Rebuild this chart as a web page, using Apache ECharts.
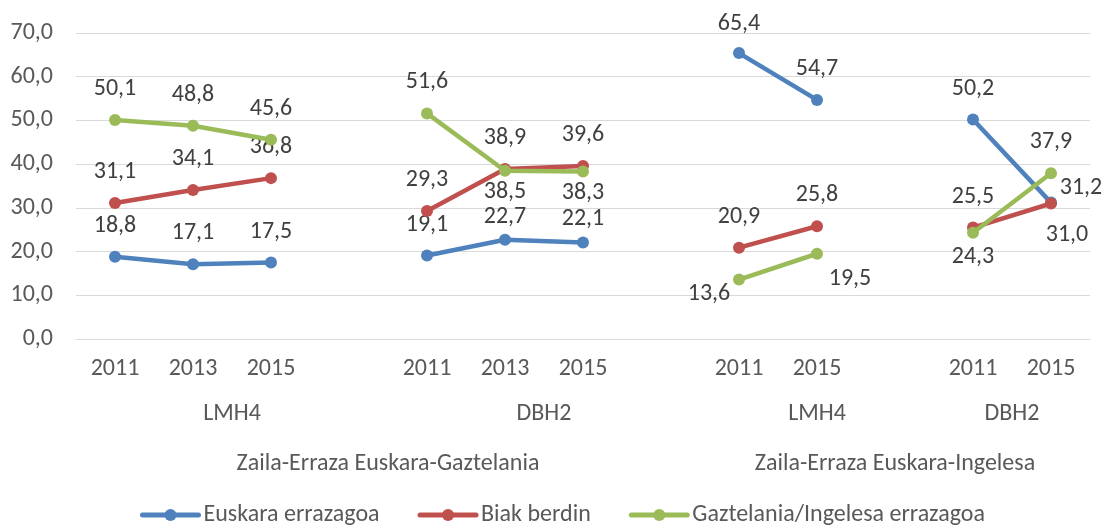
<!DOCTYPE html>
<html>
<head>
<meta charset="utf-8">
<script src="https://cdn.jsdelivr.net/npm/echarts@6/dist/echarts.min.js"></script>
<style>
  html, body { margin: 0; padding: 0; background: #fff; }
  #main { width: 1110px; height: 526px; }
</style>
</head>
<body>
<div id="main"></div>
<script>
// categories (blank slots separate the groups, like the Excel axis)
const years = ['2011', '2013', '2015', '', '2011', '2013', '2015', '', '2011', '2015', '', '2011', '2015'];
const levelTwo = [
	{ name: 'LMH4', from: 0, to: 3 },
	{ name: 'DBH2', from: 4, to: 7 },
	{ name: 'LMH4', from: 8, to: 10 },
	{ name: 'DBH2', from: 11, to: 12 }
];
const levelThree = [
	{ name: 'Zaila-Erraza Euskara-Gaztelania', from: 0, to: 7 },
	{ name: 'Zaila-Erraza Euskara-Ingelesa', from: 8, to: 12 }
];

const seriesNames = ['Euskara errazagoa', 'Biak berdin', 'Gaztelania/Ingelesa errazagoa'];
const euskara = [18.8, 17.1, 17.5, null, 19.1, 22.7, 22.1, null, 65.4, 54.7, null, 50.2, 31.2];
const biak = [31.1, 34.1, 36.8, null, 29.3, 38.9, 39.6, null, 20.9, 25.8, null, 25.5, 31.0];
const gaztelania = [50.1, 48.8, 45.6, null, 51.6, 38.5, 38.3, null, 13.6, 19.5, null, 24.3, 37.9];

const yTicks = { min: 0, max: 70, interval: 10 };

// label placement (offset from the marker centre), default is above
const defaultOffset = [0, -31];
const labelOffsets = [
	{ 5: [0, -23], 6: [0, -23], 8: [0, -29], 12: [30, -15] },
	{ 12: [16, 32] },
	{ 5: [0, 21], 6: [0, 21], 8: [-30, 14], 9: [33, 25], 11: [0, 24] }
];

const colors = ['#4F81BD', '#C0504D', '#9BBB59'];
const fontFamily = 'Carlito, Calibri, "Noto Sans", sans-serif';
const fontSize = 24;
const fmt = v => v.toFixed(1).replace('.', ',');

const chart = echarts.init(document.getElementById('main'), null, { renderer: 'canvas' });

function buildSeries(values, index) {
	return {
		name: seriesNames[index],
		type: 'line',
		symbol: 'circle',
		symbolSize: 12,
		z: 2 + index,
		lineStyle: { width: 4.5, color: colors[index], cap: 'round' },
		itemStyle: { color: colors[index] },
		emphasis: { disabled: true },
		label: {
			show: true,
			position: 'inside',
			color: '#404040',
			fontFamily,
			fontSize,
			formatter: p => fmt(p.value)
		},
		data: values.map((v, i) => {
			if (v === null) {
				return null;
			}
			return { value: v, label: { offset: labelOffsets[index][i] || defaultOffset } };
		})
	};
}

chart.setOption({
	animation: false,
	color: colors,
	grid: { left: 76, right: 20, top: 33, bottom: 187 },
	xAxis: {
		type: 'category',
		data: years,
		boundaryGap: true,
		axisLine: { lineStyle: { color: '#D9D9D9', width: 1 } },
		axisTick: { show: false },
		axisLabel: { color: '#595959', fontFamily, fontSize, margin: 18, interval: 0 }
	},
	yAxis: {
		type: 'value',
		min: yTicks.min,
		max: yTicks.max,
		interval: yTicks.interval,
		axisLine: { show: false },
		axisTick: { show: false },
		splitLine: { lineStyle: { color: '#D9D9D9', width: 1 } },
		axisLabel: { color: '#595959', fontFamily, fontSize, margin: 23, formatter: v => fmt(v) }
	},
	legend: {
		top: 498,
		left: 135,
		itemWidth: 56,
		itemHeight: 15,
		itemGap: 38,
		lineStyle: { width: 5 },
		textStyle: { color: '#595959', fontFamily, fontSize },
		data: seriesNames
	},
	series: [buildSeries(euskara, 0), buildSeries(biak, 1), buildSeries(gaztelania, 2)]
});

// multi-level axis text, centred over each group through the axis scale
function groupText(groups, y) {
	return groups.map(g => {
		const x0 = chart.convertToPixel({ xAxisIndex: 0 }, g.from),
			x1 = chart.convertToPixel({ xAxisIndex: 0 }, g.to);

		return {
			type: 'text',
			x: (x0 + x1) / 2,
			y,
			style: {
				text: g.name,
				fill: '#595959',
				font: fontSize + 'px ' + fontFamily,
				align: 'center',
				verticalAlign: 'middle'
			}
		};
	});
}

chart.setOption({
	graphic: groupText(levelTwo, 414).concat(groupText(levelThree, 464))
});
</script>
</body>
</html>
